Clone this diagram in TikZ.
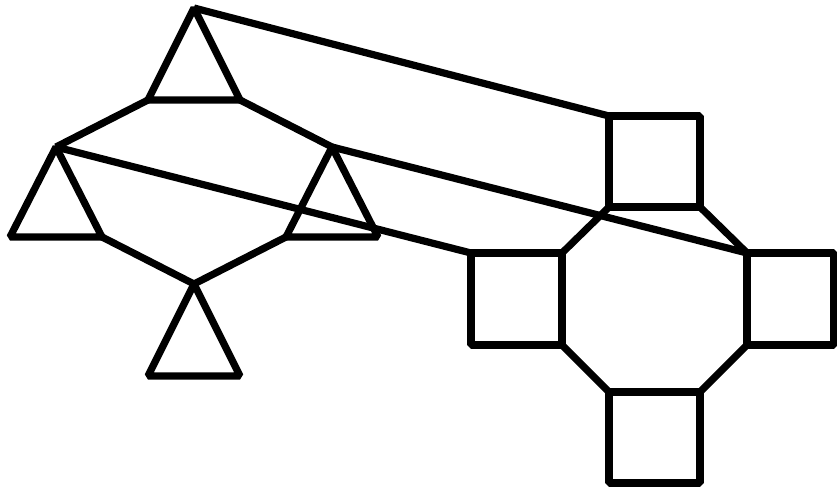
\documentclass[tikz,border=0pt]{standalone}
\usepackage{tikz}
\usetikzlibrary{calc}

\begin{document}
\begin{tikzpicture}[
  x=0.02cm, y=-0.02cm,
  edge/.style={line width=4.1pt, line join=bevel},
  link/.style={line width=4.1pt}
]
\useasboundingbox (0,0) rectangle (837,489);
% triangles
\coordinate (ta) at (194,8);   \coordinate (tl) at (148,100); \coordinate (tr) at (240,100);
\coordinate (la) at (56,147);  \coordinate (ll) at (10,237);  \coordinate (lr) at (102,237);
\coordinate (ra) at (332,147); \coordinate (rl) at (286,237); \coordinate (rr) at (378,237);
\coordinate (ba) at (194,284); \coordinate (bl) at (148,376); \coordinate (br) at (240,376);
% squares (top left corner)
\coordinate (sqt) at (609,116);
\coordinate (sql) at (471,253);
\coordinate (sqr) at (747,253);
\coordinate (sqb) at (609,392);
\draw[edge] (ta) -- (tl) -- (tr) -- cycle;
\draw[edge] (la) -- (ll) -- (lr) -- cycle;
\draw[edge] (ra) -- (rl) -- (rr) -- cycle;
\draw[edge] (ba) -- (bl) -- (br) -- cycle;
\draw[edge] (tl) -- (la);
\draw[edge] (tr) -- (ra);
\draw[edge] (lr) -- (ba);
\draw[edge] (rl) -- (ba);
\draw[edge] (sqt) rectangle ++(91,91);
\draw[edge] (sql) rectangle ++(91,92);
\draw[edge] (sqr) rectangle ++(87,92);
\draw[edge] (sqb) rectangle ++(91,91);
% octagon between the squares
\draw[edge] ($(sqt)+(91,91)$) -- (sqr);
\draw[edge] ($(sqr)+(0,92)$) -- ($(sqb)+(91,0)$);
\draw[edge] (sqb) -- ($(sql)+(91,92)$);
\draw[edge] ($(sql)+(91,0)$) -- ($(sqt)+(0,91)$);
% links
\draw[link] (ta) -- (sqt);
\draw[link] (la) -- (sql);
\draw[link] (ra) -- (sqr);
\end{tikzpicture}
\end{document}
